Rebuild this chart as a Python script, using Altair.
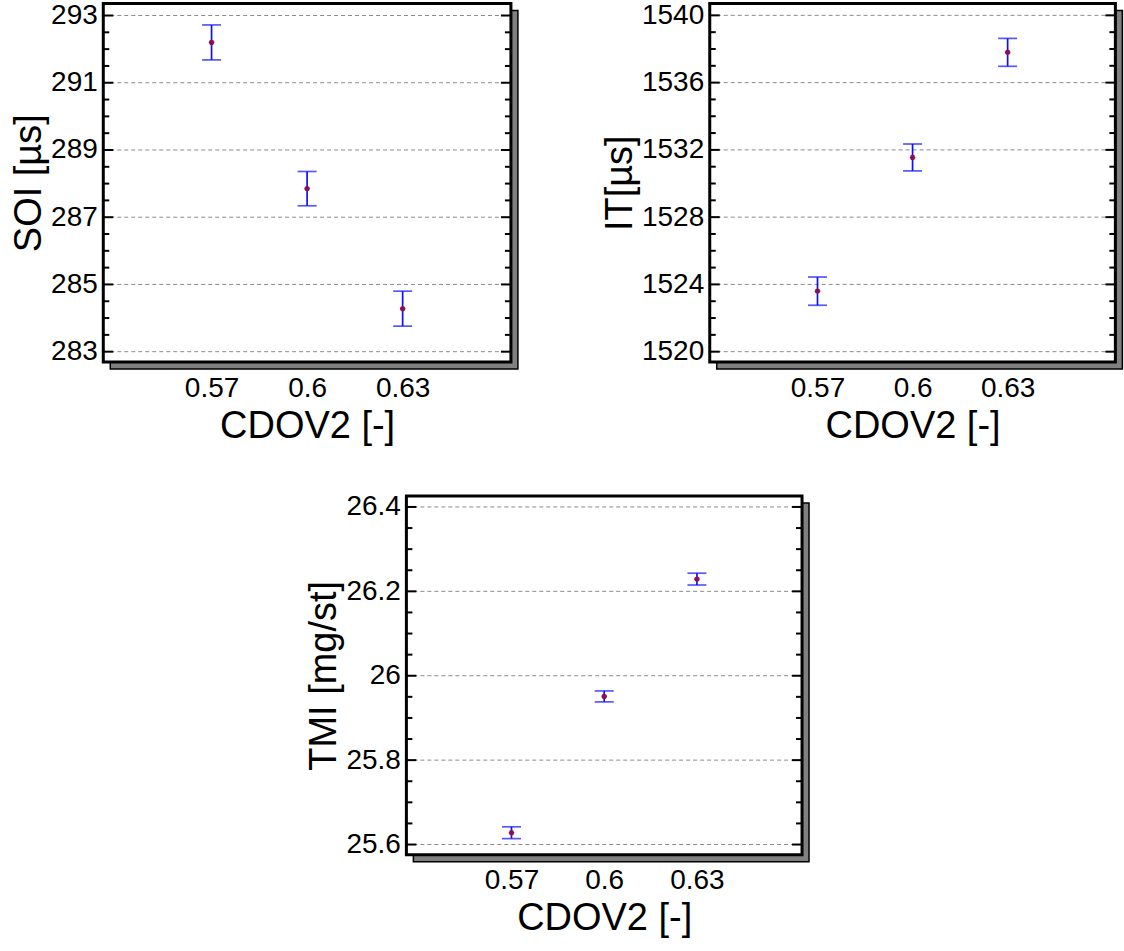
import altair as alt
import pandas as pd

FONT = "Liberation Sans"

# ---- data ----
cdov = [0.57, 0.60, 0.63]

soi_mean = [292.20, 287.85, 284.28]
soi_err = [0.52, 0.51, 0.52]

it_mean = [1523.60, 1531.55, 1537.80]
it_err = [0.84, 0.80, 0.83]

tmi_mean = [25.628, 25.951, 26.229]
tmi_err = [0.014, 0.013, 0.014]

x_ticks = [0.57, 0.6, 0.63]
x_domain = [0.536, 0.664]

soi_major = [283, 285, 287, 289, 291, 293]
soi_minor = [283.5, 284, 284.5, 285.5, 286, 286.5, 287.5, 288, 288.5,
             289.5, 290, 290.5, 291.5, 292, 292.5]
soi_domain = [282.69, 293.36]

it_major = [1520, 1524, 1528, 1532, 1536, 1540]
it_minor = [1521, 1522, 1523, 1525, 1526, 1527, 1529, 1530, 1531,
            1533, 1534, 1535, 1537, 1538, 1539]
it_domain = [1519.38, 1540.71]

tmi_major = [25.6, 25.8, 26.0, 26.2, 26.4]
tmi_minor = [25.65, 25.7, 25.75, 25.85, 25.9, 25.95, 26.05, 26.1, 26.15,
             26.25, 26.3, 26.35]
tmi_domain = [25.576, 26.426]

ASTERISK = "M-1,0L1,0M0,-1L0,1M-0.7,-0.7L0.7,0.7M-0.7,0.7L0.7,-0.7"

one = pd.DataFrame({"k": [0]})


def panel(mean, err, ytitle, major, minor, ydomain, yfmt, w, h, extra_right=0):
    df = pd.DataFrame({
        "x": cdov,
        "m": mean,
        "lo": [a - b for a, b in zip(mean, err)],
        "hi": [a + b for a, b in zip(mean, err)],
    })
    major_df = pd.DataFrame({"v": major})
    minor_df = pd.DataFrame({"v": minor})

    xs = alt.Scale(domain=x_domain, nice=False, zero=False)
    ys = alt.Scale(domain=ydomain, nice=False, zero=False)
    xaxis = alt.Axis(values=x_ticks, format="~g", title="CDOV2 [-]", grid=False,
                     ticks=False, domain=False, labelFontSize=28, titleFontSize=38,
                     labelPadding=12, titlePadding=5, labelFont=FONT, titleFont=FONT,
                     labelColor="black", titleColor="black", titleFontWeight="normal")
    yaxis = alt.Axis(values=major, format=yfmt, title=ytitle, grid=False,
                     ticks=False, domain=False, labelFontSize=28, titleFontSize=38,
                     labelPadding=6, titlePadding=2, labelFont=FONT, titleFont=FONT,
                     labelColor="black", titleColor="black", titleFontWeight="normal")

    Y = lambda f: alt.Y(f, type="quantitative", scale=ys, axis=yaxis)
    X = lambda f: alt.X(f, type="quantitative", scale=xs, axis=xaxis)

    layers = []
    if extra_right:
        # invisible spacer that only widens the panel's bounds (for centring)
        layers.append(alt.Chart(one).mark_rect(opacity=0).encode(
            x=alt.value(w), x2=alt.value(w + extra_right), y=alt.value(0), y2=alt.value(10)))
    shadow = alt.Chart(one).mark_rect(fill="#808080", stroke="black", strokeWidth=1.5).encode(
        x=alt.value(7), x2=alt.value(w + 7), y=alt.value(7), y2=alt.value(h + 7))
    white = alt.Chart(one).mark_rect(fill="white").encode(
        x=alt.value(0), x2=alt.value(w), y=alt.value(0), y2=alt.value(h))
    grid = alt.Chart(major_df).mark_rule(color="#8c8c8c", strokeDash=[4, 3], strokeWidth=1).encode(
        y=Y("v"), x=alt.value(0), x2=alt.value(w))
    maj_l = alt.Chart(major_df).mark_rule(color="black", strokeWidth=2).encode(
        y=Y("v"), x=alt.value(0), x2=alt.value(10))
    maj_r = alt.Chart(major_df).mark_rule(color="black", strokeWidth=2).encode(
        y=Y("v"), x=alt.value(w - 10), x2=alt.value(w))
    min_l = alt.Chart(minor_df).mark_rule(color="black", strokeWidth=2).encode(
        y=Y("v"), x=alt.value(0), x2=alt.value(6))
    min_r = alt.Chart(minor_df).mark_rule(color="black", strokeWidth=2).encode(
        y=Y("v"), x=alt.value(w - 6), x2=alt.value(w))
    bar = alt.Chart(df).mark_rule(color="#1010ff", strokeWidth=1.7).encode(
        x=X("x"), y=Y("lo"), y2="hi")
    cap_lo = alt.Chart(df).mark_tick(orient="horizontal", size=19, thickness=1.7, color="#1010ff").encode(
        x=X("x"), y=Y("lo"))
    cap_hi = alt.Chart(df).mark_tick(orient="horizontal", size=19, thickness=1.7, color="#1010ff").encode(
        x=X("x"), y=Y("hi"))
    pts = alt.Chart(df).mark_point(shape=ASTERISK, size=30, color="#8a1050", strokeWidth=1.6,
                                   filled=False, opacity=1).encode(x=X("x"), y=Y("m"))
    frame = alt.Chart(one).mark_rect(fill="white", fillOpacity=0, stroke="black", strokeWidth=3).encode(
        x=alt.value(0), x2=alt.value(w), y=alt.value(0), y2=alt.value(h))

    layers += [shadow, white, grid, maj_l, maj_r, min_l, min_r, bar, cap_lo, cap_hi, pts, frame]
    return alt.layer(*layers).properties(width=w, height=h)


p1 = panel(soi_mean, soi_err, "SOI [µs]", soi_major, soi_minor, soi_domain, "d", 408, 359)
p2 = panel(it_mean, it_err, "IT[µs]", it_major, it_minor, it_domain, "d", 406, 359)
p3 = panel(tmi_mean, tmi_err, "TMI [mg/st]", tmi_major, tmi_minor, tmi_domain, "~g", 396, 359,
           extra_right=18)

top = alt.hconcat(p1, p2, spacing=81)
chart = alt.vconcat(top, p3, spacing=46, center=True).properties(
    padding={"left": 10, "top": 0, "right": 0, "bottom": 0},
    background="white",
).configure_view(stroke="transparent")

chart.save("out.html", embed_options={"renderer": "svg", "actions": False})
